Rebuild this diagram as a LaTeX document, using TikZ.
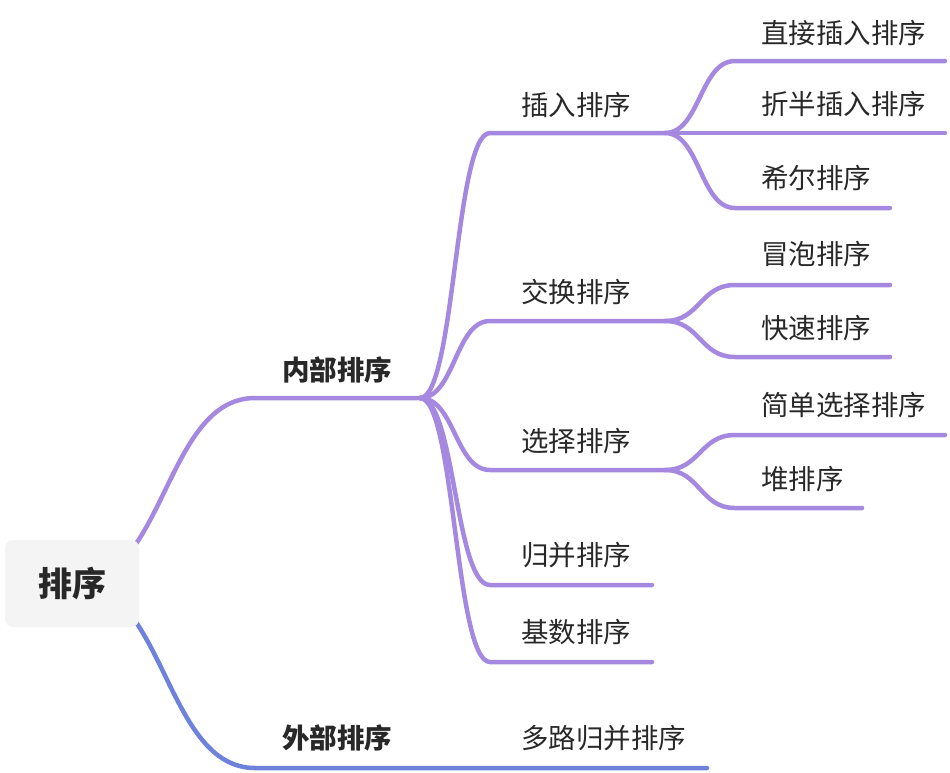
\documentclass[tikz,border=0pt]{standalone}
\usepackage{fontspec}
\setmainfont{Noto Sans CJK SC}
\definecolor{purp}{RGB}{165,136,223}
\definecolor{blu}{RGB}{110,130,220}
\definecolor{rootfill}{RGB}{244,244,244}
\definecolor{txt}{RGB}{40,40,40}
\begin{document}
\begin{tikzpicture}[x=1pt,y=-1pt,
  br/.style={line width=4.5pt, line cap=round, purp},
  brb/.style={line width=4.5pt, line cap=round, blu},
  lbl/.style={anchor=west, inner sep=0pt, text=txt, font=\fontsize{27.5}{32}\selectfont},
  lblb/.style={lbl, font=\fontsize{27.5}{32}\selectfont\bfseries},
  rootbox/.style={fill=rootfill, rounded corners=8pt, minimum width=134pt, minimum height=87pt, inner sep=0pt, text=txt, font=\fontsize{34}{40}\selectfont\bfseries}]
\useasboundingbox (0,0) rectangle (950,772);
% coordinates
\coordinate (r) at (75,583);
\coordinate (inS) at (255,398); \coordinate (inE) at (420,398);
\coordinate (exS) at (255,768); \coordinate (exE) at (707,768);
\coordinate (crS) at (490,133); \coordinate (crE) at (665,133);
\coordinate (jhS) at (490,321); \coordinate (jhE) at (665,321);
\coordinate (xzS) at (490,470); \coordinate (xzE) at (665,470);
\coordinate (gbS) at (490,585); \coordinate (gbE) at (652,585);
\coordinate (jsS) at (490,662); \coordinate (jsE) at (652,662);
\coordinate (zjS) at (735,61);  \coordinate (zjE) at (945,61);
\coordinate (zbS) at (735,133); \coordinate (zbE) at (945,133);
\coordinate (xeS) at (735,208); \coordinate (xeE) at (890,208);
\coordinate (mpS) at (735,285); \coordinate (mpE) at (890,285);
\coordinate (ksS) at (735,357); \coordinate (ksE) at (890,357);
\coordinate (jdS) at (735,435); \coordinate (jdE) at (945,435);
\coordinate (dpS) at (735,508); \coordinate (dpE) at (862,508);
% root branches
\draw[br] (r) .. controls (165,583) and (165,398) .. (inS) -- (inE);
\draw[brb] (r) .. controls (165,583) and (165,768) .. (exS) -- (exE);
% level 2
\draw[br] (inE) .. controls (455,398) and (455,133) .. (crS) -- (crE);
\draw[br] (inE) .. controls (455,398) and (455,321) .. (jhS) -- (jhE);
\draw[br] (inE) .. controls (455,398) and (455,470) .. (xzS) -- (xzE);
\draw[br] (inE) .. controls (455,398) and (455,585) .. (gbS) -- (gbE);
\draw[br] (inE) .. controls (455,398) and (455,662) .. (jsS) -- (jsE);
% level 3
\draw[br] (crE) .. controls (700,133) and (700,61) .. (zjS) -- (zjE);
\draw[br] (crE) .. controls (700,133) and (700,133) .. (zbS) -- (zbE);
\draw[br] (crE) .. controls (700,133) and (700,208) .. (xeS) -- (xeE);
\draw[br] (jhE) .. controls (700,321) and (700,285) .. (mpS) -- (mpE);
\draw[br] (jhE) .. controls (700,321) and (700,357) .. (ksS) -- (ksE);
\draw[br] (xzE) .. controls (700,470) and (700,435) .. (jdS) -- (jdE);
\draw[br] (xzE) .. controls (700,470) and (700,508) .. (dpS) -- (dpE);
% root
\node[rootbox] (root) at (72,583.5) {排序};
% labels
\node[lblb] (nb) at (282,370) {内部排序};
\node[lblb] (wb) at (282,738) {外部排序};
\node[lbl] (cr) at (521,105) {插入排序};
\node[lbl] (jh) at (521,292) {交换排序};
\node[lbl] (xz) at (521,441) {选择排序};
\node[lbl] (gb) at (521,555) {归并排序};
\node[lbl] (js) at (521,632) {基数排序};
\node[lbl] (dl) at (521,738) {多路归并排序};
\node[lbl] (zj) at (761,33) {直接插入排序};
\node[lbl] (zb) at (761,104) {折半插入排序};
\node[lbl] (xe) at (761,178) {希尔排序};
\node[lbl] (mp) at (761,254) {冒泡排序};
\node[lbl] (ks) at (761,328) {快速排序};
\node[lbl] (jd) at (761,405) {简单选择排序};
\node[lbl] (dp) at (761,479) {堆排序};
\end{tikzpicture}
\end{document}
